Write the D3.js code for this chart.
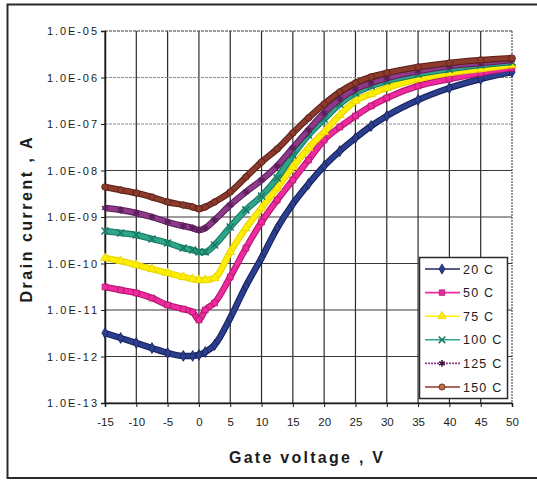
<!DOCTYPE html>
<html>
<head>
<meta charset="utf-8">
<script src="https://cdn.jsdelivr.net/npm/d3@7"></script>
<style>
  body { margin: 0; background: #ffffff; }
  svg { display: block; }
  text { font-family: "Liberation Sans", Arial, sans-serif; fill: #1c1c1c; }
</style>
</head>
<body>
<svg id="chart" width="537" height="480"></svg>
<script>
// Gate voltage sweep (V)
const gateVoltage = [-15, -12.5, -10, -7.5, -5, -2.5, -1, 0, 1, 2.5, 5, 7.5, 10, 12.5, 15, 17.5, 20, 22.5, 25, 27.5, 30, 35, 40, 45, 50];

// Drain current (A) at each temperature
const drain20C  = [3.20e-12, 2.50e-12, 1.95e-12, 1.52e-12, 1.19e-12, 1.03e-12, 1.03e-12, 1.08e-12, 1.25e-12, 1.77e-12, 6.73e-12, 3.28e-11, 1.31e-10, 5.79e-10, 1.91e-9, 5.13e-9, 1.25e-8, 2.62e-8, 5.00e-8, 9.06e-8, 1.49e-7, 3.28e-7, 5.94e-7, 9.29e-7, 1.31e-6];
const drain50C  = [3.13e-11, 2.69e-11, 2.32e-11, 1.81e-11, 1.28e-11, 1.05e-11, 9.06e-12, 6.10e-12, 1.00e-11, 1.42e-11, 5.13e-11, 2.15e-10, 7.80e-10, 2.32e-9, 6.25e-9, 1.68e-8, 4.53e-8, 8.61e-8, 1.49e-7, 2.44e-7, 3.62e-7, 6.57e-7, 9.29e-7, 1.25e-6, 1.60e-6];
const drain75C  = [1.31e-10, 1.13e-10, 9.29e-11, 7.62e-11, 6.25e-11, 5.13e-11, 4.64e-11, 4.42e-11, 4.42e-11, 4.88e-11, 1.77e-10, 5.79e-10, 1.56e-9, 4.21e-9, 1.19e-8, 3.05e-8, 6.73e-8, 1.56e-7, 3.13e-7, 4.42e-7, 5.94e-7, 9.29e-7, 1.25e-6, 1.52e-6, 1.86e-6];
const drain100C = [5.00e-10, 4.53e-10, 4.10e-10, 3.37e-10, 2.76e-10, 2.15e-10, 1.95e-10, 1.77e-10, 1.77e-10, 2.50e-10, 6.10e-10, 1.42e-9, 2.83e-9, 6.90e-9, 2.15e-8, 5.79e-8, 1.28e-7, 2.69e-7, 4.64e-7, 6.57e-7, 8.41e-7, 1.19e-6, 1.52e-6, 1.86e-6, 2.15e-6];
const drain125C = [1.56e-9, 1.42e-9, 1.22e-9, 1.00e-9, 7.80e-10, 6.40e-10, 5.79e-10, 5.25e-10, 5.79e-10, 8.61e-10, 1.81e-9, 3.45e-9, 6.25e-9, 1.25e-8, 3.05e-8, 7.43e-8, 1.73e-7, 3.45e-7, 5.66e-7, 7.62e-7, 9.75e-7, 1.38e-6, 1.77e-6, 2.05e-6, 2.38e-6];
const drain150C = [4.42e-9, 3.81e-9, 3.28e-9, 2.69e-9, 2.10e-9, 1.81e-9, 1.64e-9, 1.49e-9, 1.64e-9, 2.10e-9, 3.45e-9, 7.24e-9, 1.52e-8, 2.90e-8, 6.40e-8, 1.35e-7, 2.69e-7, 4.88e-7, 7.62e-7, 1.03e-6, 1.25e-6, 1.68e-6, 2.05e-6, 2.38e-6, 2.62e-6];

const seriesNames = ["20 C", "50 C", "75 C", "100 C", "125 C", "150 C"];
const seriesValues = [drain20C, drain50C, drain75C, drain100C, drain125C, drain150C];

// Axis ticks
const xTickValues = [-15, -10, -5, 0, 5, 10, 15, 20, 25, 30, 35, 40, 45, 50];
const yTickValues = [1e-13, 1e-12, 1e-11, 1e-10, 1e-9, 1e-8, 1e-7, 1e-6, 1e-5];
const yTickLabels = ["1.0E-13", "1.0E-12", "1.0E-11", "1.0E-10", "1.0E-09", "1.0E-08", "1.0E-07", "1.0E-06", "1.0E-05"];

// Styling per series
const lineColors   = ["#2c3f8e", "#ee2a9e", "#ffee00", "#2fa68c", "#8e3a8a", "#8c3a2c"];
const markerEdges  = ["#16215a", "#b0186e", "#e8d400", "#177a62", "#5a1f5a", "#5a2018"];
const symbolTypes  = [
  d3.symbolDiamond, d3.symbolSquare, d3.symbolTriangle,
  d3.symbolTimes || d3.symbolCross, d3.symbolAsterisk || d3.symbolStar, d3.symbolCircle
];

const svg = d3.select("#chart");

// Outer frame
svg.append("rect")
  .attr("x", 7.5).attr("y", 4.5)
  .attr("width", 545).attr("height", 473.5)
  .attr("fill", "none")
  .attr("stroke", "#2a2a2a")
  .attr("stroke-width", 2);

const x = d3.scaleLinear().domain([-15, 50]).range([105, 512]);
const y = d3.scaleLog().domain([1e-13, 1e-5]).range([403, 31]);

// Grid
const grid = svg.append("g");
grid.selectAll("line.v")
  .data(xTickValues)
  .join("line")
  .attr("class", "v")
  .attr("x1", d => x(d)).attr("x2", d => x(d))
  .attr("y1", y(1e-5)).attr("y2", y(1e-13))
  .attr("stroke", d => d === 50 ? "#555" : "#2a2a2a")
  .attr("stroke-dasharray", d => d === 50 ? "2,1" : null)
  .attr("stroke-width", 1.2);

grid.selectAll("line.h")
  .data(yTickValues)
  .join("line")
  .attr("class", "h")
  .attr("x1", x(-15)).attr("x2", x(50))
  .attr("y1", d => y(d)).attr("y2", d => y(d))
  .attr("stroke", (d, i) => (i === 6 || i === 7) ? "#8a8a8a" : "#3a3a3a")
  .attr("stroke-dasharray", (d, i) => (i === 8 || i === 6 || i === 7) ? "3,1" : null)
  .attr("stroke-width", 1.2);

// Axes
const yAxis = d3.axisLeft(y)
  .tickValues(yTickValues)
  .tickFormat((d, i) => yTickLabels[i])
  .tickSize(4)
  .tickPadding(4);

const gy = svg.append("g").attr("transform", `translate(${x(-15)},0)`).call(yAxis);
gy.select(".domain").attr("stroke", "#1a1a1a").attr("stroke-width", 1.5);
gy.selectAll(".tick line").attr("stroke", "#1a1a1a");
gy.selectAll(".tick text")
  .attr("font-size", 11)
  .attr("textLength", 50)
  .attr("lengthAdjust", "spacing")
  .attr("fill", "#1c1c1c");

const xAxis = d3.axisBottom(x)
  .tickValues(xTickValues)
  .tickFormat(d => d)
  .tickSize(4)
  .tickPadding(11);

const gx = svg.append("g").attr("transform", `translate(0,${y(1e-13)})`).call(xAxis);
gx.select(".domain").attr("stroke", "#1a1a1a").attr("stroke-width", 1.5);
gx.selectAll(".tick line").attr("stroke", "#1a1a1a");
gx.selectAll(".tick text")
  .attr("font-size", 11.5)
  .attr("fill", "#1c1c1c");

// Axis titles
svg.append("text")
  .attr("x", 306).attr("y", 463)
  .attr("text-anchor", "middle")
  .attr("font-size", 16)
  .attr("font-weight", "bold")
  .attr("textLength", 154)
  .attr("lengthAdjust", "spacing")
  .text("Gate voltage , V");

svg.append("text")
  .attr("transform", "translate(32,220) rotate(-90)")
  .attr("text-anchor", "middle")
  .attr("font-size", 16)
  .attr("font-weight", "bold")
  .attr("textLength", 165)
  .attr("lengthAdjust", "spacing")
  .text("Drain current , A");

// Curves: thick rope of dense markers
const line = d3.line()
  .x((d, i) => x(gateVoltage[i]))
  .y(d => y(d))
  .curve(d3.curveMonotoneX);

const curves = svg.append("g");
seriesValues.forEach((vals, s) => {
  const g = curves.append("g");
  g.append("path")
    .attr("d", line(vals))
    .attr("fill", "none")
    .attr("stroke", markerEdges[s])
    .attr("stroke-width", 6.5)
    .attr("stroke-linejoin", "round");
  g.append("path")
    .attr("d", line(vals))
    .attr("fill", "none")
    .attr("stroke", lineColors[s])
    .attr("stroke-width", 4.4)
    .attr("stroke-linejoin", "round");
  const sym = d3.symbol().type(symbolTypes[s]).size(34);
  const strokeSym = (s === 3 || s === 4);
  g.selectAll("path.m")
    .data(vals)
    .join("path")
    .attr("class", "m")
    .attr("transform", (d, i) => `translate(${x(gateVoltage[i])},${y(d)})`)
    .attr("d", sym)
    .attr("fill", strokeSym ? "none" : lineColors[s])
    .attr("stroke", markerEdges[s])
    .attr("stroke-width", strokeSym ? 1.6 : 0.8);
});

// Legend
const legend = svg.append("g");
legend.append("rect")
  .attr("x", 419.5).attr("y", 257.5)
  .attr("width", 88).attr("height", 141)
  .attr("fill", "#ffffff")
  .attr("stroke", "#2a2a2a")
  .attr("stroke-width", 1.5);

seriesNames.forEach((name, s) => {
  const cy = 269 + s * 23.6;
  legend.append("line")
    .attr("x1", 425).attr("x2", 460)
    .attr("y1", cy).attr("y2", cy)
    .attr("stroke", s === 0 ? "#1c2a5e" : lineColors[s])
    .attr("stroke-dasharray", s === 4 ? "2,1" : null)
    .attr("stroke-width", 1.6);
  const strokeSym = (s === 3 || s === 4);
  legend.append("path")
    .attr("transform", `translate(442,${cy})`)
    .attr("d", d3.symbol().type(symbolTypes[s]).size(30)())
    .attr("fill", strokeSym ? "none" : (s === 5 ? "#c07040" : lineColors[s]))
    .attr("stroke", s === 4 ? "#3a1a3a" : markerEdges[s])
    .attr("stroke-width", strokeSym ? 1.6 : 0.8);
  legend.append("text")
    .attr("x", 463).attr("y", cy)
    .attr("dy", "0.36em")
    .attr("font-size", 12.5)
    .attr("letter-spacing", 1.2)
    .text(name);
});
</script>
</body>
</html>
